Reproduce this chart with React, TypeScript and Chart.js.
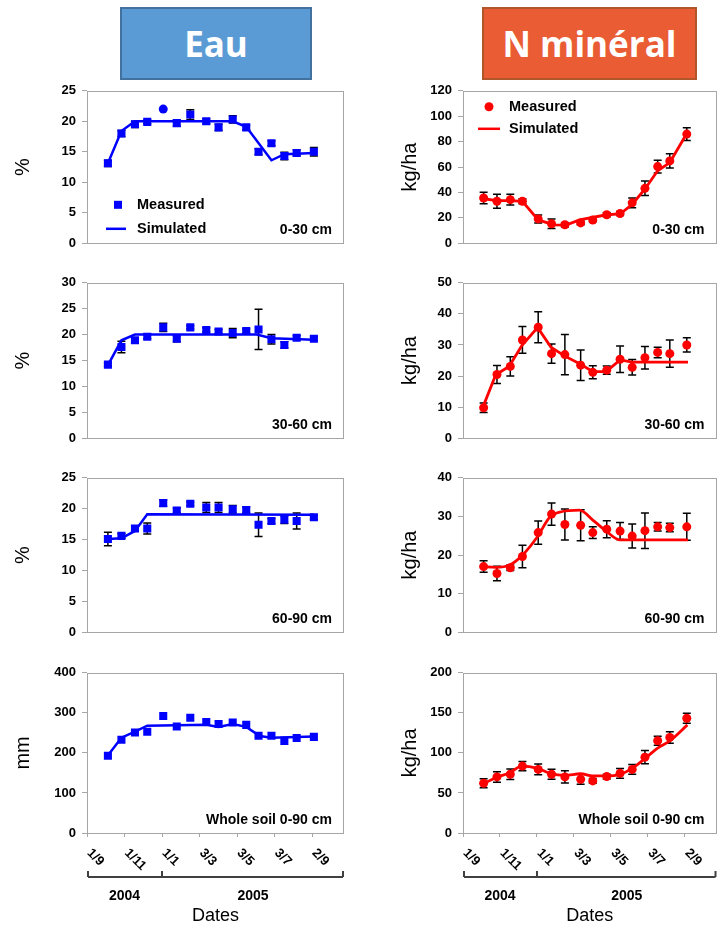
import React, { useEffect, useRef } from 'react';
import { Chart, registerables } from 'chart.js';

Chart.register(...registerables);

const FONT = '"Liberation Sans", Arial, Helvetica, sans-serif';
const AXIS_GRAY = '#A6A6A6';
const BLUE = '#0000FF';
const RED = '#FF0000';

// ---- X axis (days since 1 Sept 2004) ----
const DATE_TICK_DAYS = [0, 61, 122, 183, 244, 305, 366];
const DATE_TICK_LABELS = ['1/9', '1/11', '1/1', '3/3', '3/5', '3/7', '2/9'];
const YEARS = ['2004', '2005'];
const YEAR_BREAK_DAY = 122;
const X_MIN = 0;
const X_MAX = 418;

// sampling dates (days since 1 Sept 2004)
const SAMPLE_DAYS = [34, 56, 78, 98, 124, 146, 168, 194, 214, 237, 259, 279, 300, 321, 341, 369];

// ---- Eau (water) ----
const W1_MEAS = [13.1, 18.0, 19.5, 19.9, 22.0, 19.7, 21.1, 20.0, 19.0, 20.3, 19.0, 15.0, 16.4, 14.3, 14.8, 15.0];
const W1_ERR = [0.5, 0.5, 0.5, 0.3, 0, 0.5, 0.8, 0.4, 0.5, 0.6, 0.4, 0.5, 0.4, 0.6, 0.5, 0.7];
const W1_SIM_X = [34, 56, 78, 98, 237, 259, 300, 321, 369];
const W1_SIM_Y = [13.1, 18.4, 20.0, 20.0, 20.0, 19.1, 13.6, 14.6, 14.8];

const W2_MEAS = [14.2, 17.6, 18.9, 19.6, 21.4, 19.2, 21.4, 20.9, 20.6, 20.3, 20.7, 21.0, 19.1, 18.0, 19.4, 19.2];
const W2_ERR = [0.3, 1.1, 0.5, 0.4, 0.8, 0.6, 0.3, 0.4, 0.4, 0.9, 0.4, 3.9, 0.9, 0.6, 0.4, 0.3];
const W2_SIM_X = [34, 56, 78, 276, 300, 369];
const W2_SIM_Y = [14.1, 18.9, 20.0, 20.0, 19.3, 19.0];

const W3_MEAS = [15.1, 15.6, 16.8, 16.8, 20.9, 19.7, 20.8, 20.2, 20.2, 19.9, 19.8, 17.4, 18.0, 18.2, 18.0, 18.6];
const W3_ERR = [1.1, 0.4, 0.4, 0.9, 0.5, 0.4, 0.3, 0.8, 0.8, 0.6, 0.5, 1.9, 0.4, 0.6, 1.3, 0.3];
const W3_SIM_X = [34, 56, 78, 98, 369];
const W3_SIM_Y = [15.1, 15.2, 16.4, 19.1, 19.0];

const W4_MEAS = [193, 233, 251, 253, 292, 266, 288, 277, 272, 276, 270, 243, 243, 230, 237, 240];
const W4_ERR: number[] = [];
const W4_SIM_X = [32, 56, 78, 98, 194, 214, 237, 259, 281, 300, 369];
const W4_SIM_Y = [190, 238, 253, 268, 270, 265, 272, 265, 242, 238, 241];

// ---- N minéral ----
const N1_MEAS = [35.6, 33.0, 34.3, 33.0, 19.1, 15.3, 14.5, 16.0, 18.3, 22.4, 23.4, 31.8, 43.2, 60.3, 64.8, 85.9];
const N1_ERR = [4.5, 5.5, 4.2, 2.0, 3.2, 3.8, 1.7, 1.5, 1.5, 1.5, 1.5, 3.8, 5.7, 5.0, 5.6, 5.0];
const N1_SIM_X = [34, 56, 78, 98, 124, 150, 170, 192, 237, 259, 279, 300, 321, 341, 369];
const N1_SIM_Y = [35.0, 33.5, 33.5, 33.0, 18.3, 14.5, 14.2, 18.3, 22.4, 23.0, 30.5, 42.7, 57.0, 63.5, 86.4];

const N2_MEAS = [9.8, 20.5, 23.1, 31.6, 35.7, 27.2, 26.9, 23.5, 21.2, 21.9, 25.4, 22.8, 25.9, 27.6, 27.2, 30.0];
const N2_ERR = [1.5, 2.9, 3.1, 4.3, 5.0, 3.1, 6.5, 4.9, 2.1, 1.3, 4.3, 2.5, 3.6, 1.7, 4.4, 2.3];
const N2_SIM_X = [32, 54, 76, 97, 123, 145, 168, 194, 214, 236, 259, 279, 371];
const N2_SIM_Y = [9.6, 20.4, 23.1, 29.8, 35.6, 29.3, 26.4, 23.8, 21.4, 21.4, 25.2, 24.5, 24.5];

const N3_MEAS = [17.0, 15.2, 16.7, 19.6, 25.8, 30.6, 27.9, 27.7, 25.8, 26.7, 26.2, 24.9, 26.3, 27.3, 27.1, 27.3];
const N3_ERR = [1.5, 1.9, 0.7, 2.9, 3.0, 2.9, 4.0, 4.0, 1.5, 2.2, 2.2, 3.1, 4.6, 1.1, 1.1, 3.5];
const N3_SIM_X = [32, 54, 77, 97, 123, 143, 162, 192, 215, 236, 259, 371];
const N3_SIM_Y = [17.0, 16.8, 17.4, 19.8, 24.8, 29.8, 31.2, 31.6, 28.9, 26.2, 23.9, 23.9];

const N4_MEAS = [62.1, 70.0, 73.3, 83.5, 79.4, 73.3, 70.0, 67.1, 65.0, 70.4, 74.5, 79.4, 94.7, 115.2, 119.3, 143.2];
const N4_ERR = [5.5, 6.6, 6.6, 5.8, 6.6, 6.2, 7.6, 6.2, 2.9, 2.9, 6.0, 6.2, 8.2, 5.6, 7.2, 6.2];
const N4_SIM_X = [32, 54, 77, 97, 123, 145, 168, 194, 214, 236, 259, 279, 300, 321, 341, 370];
const N4_SIM_Y = [60.9, 69.0, 75.3, 83.5, 80.7, 74.1, 72.0, 74.0, 71.2, 71.2, 73.3, 80.7, 93.0, 106.0, 115.0, 135.0];

const LEGEND_LABELS = ['Measured', 'Simulated'];
const PANEL_LABELS = ['0-30 cm', '30-60 cm', '60-90 cm', 'Whole soil 0-90 cm'];

// ---- layout ----
const PLOT_TOPS = [89, 281, 476, 671];
const PLOT_BOTTOMS = [247, 442, 636, 833];
const PAGE_H = 925;
const RECT_R = 5.7;
const CIRCLE_R = 4.5;

type Legend = { mx: number; my: number; lx1: number; lx2: number; ly: number; tx: number } | null;

type Spec = {
  left: number; top: number; w: number; h: number;
  yAxisW: number; padRight: number; xAxisH: number; bottom: boolean;
  yMax: number; yStep: number; yTitle: string; yTitlePad: number;
  label: string; color: string;
  meas: number[]; err: number[]; simX: number[]; simY: number[];
  smooth: boolean; pointStyle: any; pointRadius: any;
  legend: Legend; marker: 'rect' | 'circle';
};

type ColDef = {
  col: number; yMax: number; yStep: number; yTitle: string;
  meas: number[]; err: number[]; simX: number[]; simY: number[]; smooth: boolean; pointStyle?: string[];
};

const W1_STYLES = W1_MEAS.map((_, i) => (W1_ERR[i] === 0 ? 'circle' : 'rect'));

const LEFT_DEFS: ColDef[] = [
  { col: 0, yMax: 25, yStep: 5, yTitle: '%', meas: W1_MEAS, err: W1_ERR, simX: W1_SIM_X, simY: W1_SIM_Y, smooth: false, pointStyle: W1_STYLES },
  { col: 0, yMax: 30, yStep: 5, yTitle: '%', meas: W2_MEAS, err: W2_ERR, simX: W2_SIM_X, simY: W2_SIM_Y, smooth: false },
  { col: 0, yMax: 25, yStep: 5, yTitle: '%', meas: W3_MEAS, err: W3_ERR, simX: W3_SIM_X, simY: W3_SIM_Y, smooth: false },
  { col: 0, yMax: 400, yStep: 100, yTitle: 'mm', meas: W4_MEAS, err: W4_ERR, simX: W4_SIM_X, simY: W4_SIM_Y, smooth: false },
];
const RIGHT_DEFS: ColDef[] = [
  { col: 1, yMax: 120, yStep: 20, yTitle: 'kg/ha', meas: N1_MEAS, err: N1_ERR, simX: N1_SIM_X, simY: N1_SIM_Y, smooth: false },
  { col: 1, yMax: 50, yStep: 10, yTitle: 'kg/ha', meas: N2_MEAS, err: N2_ERR, simX: N2_SIM_X, simY: N2_SIM_Y, smooth: false },
  { col: 1, yMax: 40, yStep: 10, yTitle: 'kg/ha', meas: N3_MEAS, err: N3_ERR, simX: N3_SIM_X, simY: N3_SIM_Y, smooth: true },
  { col: 1, yMax: 200, yStep: 50, yTitle: 'kg/ha', meas: N4_MEAS, err: N4_ERR, simX: N4_SIM_X, simY: N4_SIM_Y, smooth: true },
];

function makeSpec(d: ColDef, i: number): Spec {
  const isLeft = d.col === 0;
  const bottom = i === 3;
  const xAxisH = bottom ? PAGE_H - PLOT_BOTTOMS[i] : 10;
  const top = PLOT_TOPS[i] - 12;
  const h = 12 + (PLOT_BOTTOMS[i] - PLOT_TOPS[i]) + xAxisH;
  const styles = d.pointStyle;
  return {
    left: isLeft ? 0 : 361,
    top,
    w: 360,
    h,
    yAxisW: isLeft ? 87 : 102,
    padRight: isLeft ? 16 : 2,
    xAxisH,
    bottom,
    yMax: d.yMax,
    yStep: d.yStep,
    yTitle: d.yTitle,
    yTitlePad: isLeft ? 11 : 37,
    label: PANEL_LABELS[i],
    color: isLeft ? BLUE : RED,
    meas: d.meas,
    err: d.err,
    simX: d.simX,
    simY: d.simY,
    smooth: d.smooth,
    pointStyle: styles ?? (isLeft ? 'rect' : 'circle'),
    pointRadius: styles
      ? styles.map((s) => (s === 'rect' ? RECT_R : CIRCLE_R))
      : (isLeft ? RECT_R : CIRCLE_R),
    legend: i === 0
      ? (isLeft
        ? { mx: 31, my: 114, lx1: 19, lx2: 39, ly: 138, tx: 50 }
        : { mx: 26, my: 16, lx1: 15, lx2: 37, ly: 38, tx: 46 })
      : null,
    marker: isLeft ? 'rect' : 'circle',
  };
}

const SPECS: Spec[] = [
  ...LEFT_DEFS.map((d, i) => makeSpec(d, i)),
  ...RIGHT_DEFS.map((d, i) => makeSpec(d, i)),
];

function decorPlugin(spec: Spec) {
  return {
    id: 'panelDecor',
    beforeDatasetsDraw(chart: any) {
      const { ctx, scales } = chart;
      const xs = scales.x;
      const ys = scales.y;
      ctx.save();
      ctx.strokeStyle = '#000';
      ctx.lineWidth = 1.5;
      spec.err.forEach((e, i) => {
        if (!e) return;
        const px = xs.getPixelForValue(SAMPLE_DAYS[i]);
        const v = spec.meas[i];
        const yt = ys.getPixelForValue(v + e);
        const yb = ys.getPixelForValue(v - e);
        ctx.beginPath();
        ctx.moveTo(px, yt);
        ctx.lineTo(px, yb);
        ctx.moveTo(px - 4, yt);
        ctx.lineTo(px + 4, yt);
        ctx.moveTo(px - 4, yb);
        ctx.lineTo(px + 4, yb);
        ctx.stroke();
      });
      ctx.restore();
    },
    afterDraw(chart: any) {
      const { ctx, chartArea: a, scales } = chart;
      const xs = scales.x;
      ctx.save();
      // plot frame
      ctx.strokeStyle = AXIS_GRAY;
      ctx.lineWidth = 1;
      const l = Math.round(a.left) + 0.5;
      const t = Math.round(a.top) + 0.5;
      ctx.strokeRect(l, t, Math.round(a.right) - Math.round(a.left) - 1, Math.round(a.bottom) - Math.round(a.top));
      // panel label
      ctx.fillStyle = '#000';
      ctx.font = `bold 14px ${FONT}`;
      ctx.textAlign = 'right';
      ctx.textBaseline = 'middle';
      ctx.fillText(spec.label, a.right - 12, a.bottom - 13);
      // legend
      const L = spec.legend;
      if (L) {
        const ds = chart.data.datasets;
        ctx.fillStyle = spec.color;
        if (spec.marker === 'rect') {
          ctx.fillRect(a.left + L.mx - 4, a.top + L.my - 4, 8, 8);
        } else {
          ctx.beginPath();
          ctx.arc(a.left + L.mx, a.top + L.my, 4.5, 0, Math.PI * 2);
          ctx.fill();
        }
        ctx.strokeStyle = spec.color;
        ctx.lineWidth = 2.5;
        ctx.beginPath();
        ctx.moveTo(a.left + L.lx1, a.top + L.ly);
        ctx.lineTo(a.left + L.lx2, a.top + L.ly);
        ctx.stroke();
        ctx.fillStyle = '#000';
        ctx.font = `bold 14.5px ${FONT}`;
        ctx.textAlign = 'left';
        ctx.fillText(ds[1].label, a.left + L.tx, a.top + L.my);
        ctx.fillText(ds[0].label, a.left + L.tx, a.top + L.ly);
      }
      // bottom date labels, year bracket
      if (spec.bottom) {
        ctx.fillStyle = '#000';
        ctx.font = `bold 13px ${FONT}`;
        ctx.textAlign = 'left';
        ctx.textBaseline = 'middle';
        DATE_TICK_DAYS.forEach((d, i) => {
          const px = xs.getPixelForValue(d);
          ctx.save();
          ctx.translate(px + 2, a.bottom + 18);
          ctx.rotate(Math.PI / 4);
          ctx.fillText(DATE_TICK_LABELS[i], 0, 0);
          ctx.restore();
        });
        const by = a.bottom + 44;
        const split = xs.getPixelForValue(YEAR_BREAK_DAY);
        const x0 = a.left + 1;
        const x1 = a.right - 1;
        ctx.strokeStyle = '#404040';
        ctx.lineWidth = 2;
        ctx.beginPath();
        ctx.moveTo(x0, by);
        ctx.lineTo(x1, by);
        [x0, split, x1].forEach((px) => {
          ctx.moveTo(px, by);
          ctx.lineTo(px, by - 6);
        });
        ctx.stroke();
        ctx.font = `bold 14px ${FONT}`;
        ctx.textAlign = 'center';
        ctx.fillText(YEARS[0], (a.left + split) / 2, a.bottom + 63);
        ctx.fillText(YEARS[1], (split + a.right) / 2, a.bottom + 63);
      }
      ctx.restore();
    },
  };
}

function buildConfig(spec: Spec): any {
  const measured = SAMPLE_DAYS.map((d, i) => ({ x: d, y: spec.meas[i] }));
  const sim = spec.simX.map((d, i) => ({ x: d, y: spec.simY[i] }));
  return {
    type: 'scatter',
    data: {
      datasets: [
        {
          type: 'line',
          label: LEGEND_LABELS[1],
          data: sim,
          borderColor: spec.color,
          backgroundColor: spec.color,
          borderWidth: spec.color === RED ? 2.8 : 2.5,
          pointRadius: 0,
          fill: false,
          tension: 0,
          cubicInterpolationMode: spec.smooth ? 'monotone' : 'default',
          order: 2,
        },
        {
          type: 'scatter',
          label: LEGEND_LABELS[0],
          data: measured,
          pointStyle: spec.pointStyle,
          pointRadius: spec.pointRadius,
          backgroundColor: spec.color,
          borderColor: spec.color,
          borderWidth: 0,
          order: 1,
        },
      ],
    },
    options: {
      animation: false,
      responsive: false,
      devicePixelRatio: 1,
      layout: { padding: { top: 12, right: spec.padRight, bottom: 0, left: 0 } },
      plugins: {
        legend: { display: false },
        tooltip: { enabled: false },
        title: { display: false },
      },
      scales: {
        x: {
          type: 'linear',
          min: X_MIN,
          max: X_MAX,
          afterBuildTicks: (s: any) => {
            s.ticks = DATE_TICK_DAYS.map((v) => ({ value: v }));
          },
          afterFit: (s: any) => {
            s.height = spec.xAxisH;
          },
          ticks: { display: false },
          grid: {
            display: spec.bottom,
            drawOnChartArea: false,
            drawTicks: true,
            tickLength: 4,
            color: AXIS_GRAY,
          },
          border: { display: false },
          title: {
            display: spec.bottom,
            text: 'Dates',
            color: '#000',
            font: { family: FONT, size: 18, weight: 'normal', lineHeight: 1 },
            padding: { top: 0, bottom: 0 },
          },
        },
        y: {
          type: 'linear',
          min: 0,
          max: spec.yMax,
          afterFit: (s: any) => {
            s.width = spec.yAxisW;
          },
          ticks: {
            stepSize: spec.yStep,
            color: '#000',
            padding: 6,
            font: { family: FONT, size: 13, weight: 'bold' },
          },
          grid: {
            drawOnChartArea: false,
            drawTicks: true,
            tickLength: 5,
            color: AXIS_GRAY,
          },
          border: { display: false },
          title: {
            display: true,
            text: spec.yTitle,
            color: '#000',
            font: { family: FONT, size: 20, weight: 'normal' },
            padding: { top: spec.yTitlePad, bottom: 0 },
          },
        },
      },
    },
    plugins: [decorPlugin(spec)],
  };
}

function Panel({ spec }: { spec: Spec }) {
  const ref = useRef<HTMLCanvasElement>(null);
  useEffect(() => {
    const canvas = ref.current;
    if (!canvas) return;
    const chart = new Chart(canvas, buildConfig(spec));
    return () => chart.destroy();
  }, [spec]);
  return (
    <canvas
      ref={ref}
      width={spec.w}
      height={spec.h}
      style={{ position: 'absolute', left: spec.left, top: spec.top, width: spec.w, height: spec.h }}
    />
  );
}

const headerBase: React.CSSProperties = {
  position: 'absolute',
  top: 7,
  height: 73,
  boxSizing: 'border-box',
  display: 'flex',
  alignItems: 'center',
  justifyContent: 'center',
  color: '#FFFFFF',
  fontFamily: '"Open Sans", "Noto Sans", sans-serif',
  fontWeight: 700,
  fontSize: 35,
  lineHeight: 1,
};

export default function App() {
  return (
    <div style={{ position: 'absolute', left: 0, top: 0, width: 721, height: 925, overflow: 'hidden', background: '#fff' }}>
      <div style={{ ...headerBase, left: 120, width: 192, background: '#5B9BD5', border: '2px solid #41719C' }}>Eau</div>
      <div style={{ ...headerBase, left: 482, width: 215, background: '#EA5C34', border: '2px solid #B0562A' }}>N minéral</div>
      {SPECS.map((s, i) => (
        <Panel key={i} spec={s} />
      ))}
    </div>
  );
}
